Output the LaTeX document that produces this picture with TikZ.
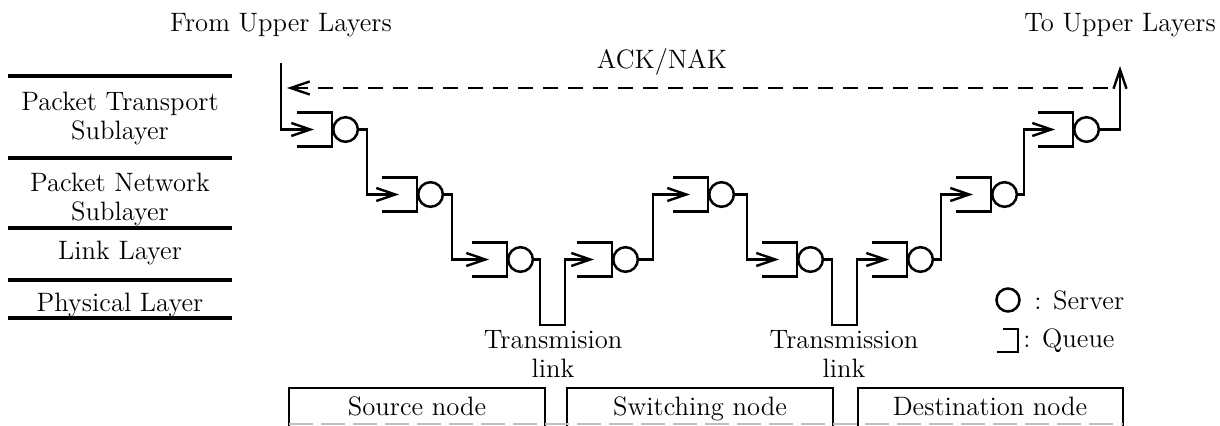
\documentclass[tikz,border=0pt]{standalone}
\usetikzlibrary{arrows.meta,calc}
\begin{document}
\begin{tikzpicture}[x=0.5pt,y=-0.5pt,
  font=\fontsize{13.3}{14.5}\selectfont,
  wire/.style={line width=1.25pt},
  arr/.style={wire,-{Straight Barb[length=9.5pt,width=6.5pt,line width=1.2pt]}},
  ackline/.style={arr,dash pattern=on 7.5pt off 5pt},
  srv/.style={circle,draw,line width=1.25pt,minimum size=12.3pt,inner sep=0pt},
  layerline/.style={line width=2pt},
  nodebox/.style={line width=0.8pt},
  lbl/.style={align=center,inner sep=0pt}]
\useasboundingbox (0,0) rectangle (1220,426);

% header texts
\node[lbl] (from) at (281,25) {From Upper Layers};
\node[lbl] (to) at (1120,25) {To Upper Layers};
\node[lbl] (ack) at (662,62) {ACK/NAK};

% layer stack
\foreach \yy in {76,158,228,280,318} \draw[layerline] (8,\yy) -- (232,\yy);
\node[lbl] (lt) at (120,118) {Packet Transport\\Sublayer};
\node[lbl] (ln) at (120,199) {Packet Network\\Sublayer};
\node[lbl] (ll) at (120,253) {Link Layer};
\node[lbl] (lp) at (120,305) {Physical Layer};

% queues and servers
\foreach \n/\x/\y in {1/332/129.5,2/417/194.5,3/507/259.5,4/612/259.5,5/708/194.5,
                      6/797/259.5,7/907/259.5,8/991/194.5,9/1073/129.5}{
  \coordinate (q\n) at (\x,\y);
  \draw[wire] ($(q\n)+(-35,-17)$) -- ++(35,0) -- ++(0,34) -- ++(-35,0);
  \node[srv,anchor=west] (s\n) at (q\n) {};
  \coordinate (in\n) at ($(q\n)+(-18,0)$);
}

% turning points
\coordinate (top1) at (281,63);
\coordinate (top9) at (1120,66);
\coordinate (t1) at (367,194.5);
\coordinate (t2) at (452,259.5);
\coordinate (l1a) at (540,325);
\coordinate (l1b) at (565,325);
\coordinate (t4) at (653,194.5);
\coordinate (t5) at (747,259.5);
\coordinate (l2a) at (832,325);
\coordinate (l2b) at (857,325);
\coordinate (t7) at (941,194.5);
\coordinate (t8) at (1024,129.5);

% connectors
\draw[arr] (top1) |- (in1);
\draw[arr] (s1.east) -| (t1) -- (in2);
\draw[arr] (s2.east) -| (t2) -- (in3);
\draw[arr] (s3.east) -| (l1a) -- (l1b) |- (in4);
\draw[arr] (s4.east) -| (t4) -- (in5);
\draw[arr] (s5.east) -| (t5) -- (in6);
\draw[arr] (s6.east) -| (l2a) -- (l2b) |- (in7);
\draw[arr] (s7.east) -| (t7) -- (in8);
\draw[arr] (s8.east) -| (t8) -- (in9);
\draw[arr] (s9.east) -| (top9);

% ACK/NAK
\coordinate (ackR) at (1108,88);
\coordinate (ackL) at (287,88);
\draw[ackline] (ackR) -- (ackL);

% transmission link labels
\node[lbl] (tl1) at (553,354) {Transmision\\link};
\node[lbl] (tl2) at (844,354) {Transmission\\link};

% legend
\node[srv,minimum size=11.5pt] (lsrv) at (1008,300) {};
\node[lbl,anchor=west] (lsrvt) at (1034,300) {: Server};
\coordinate (lq) at (1018,340);
\draw[wire] ($(lq)+(-15,-11)$) -- ++(15,0) -- ++(0,23) -- ++(-21,0);
\node[lbl,anchor=west] (lqt) at (1023,341) {: Queue};

% node boxes (bottom cut by the page edge)
\draw[nodebox] (289,426) |- (545,388) -- (545,426);
\draw[nodebox] (567,426) |- (833,388) -- (833,426);
\draw[nodebox] (858,426) |- (1123,388) -- (1123,426);
\draw[gray!50,line width=0.6pt,dash pattern=on 12pt off 4pt] (289,424) -- (1123,424);
\node[lbl,anchor=base] (src) at (417,416) {Source node};
\node[lbl,anchor=base] (sw) at (700,416) {Switching node};
\node[lbl,anchor=base] (dst) at (990,416) {Destination node};
\end{tikzpicture}
\end{document}
